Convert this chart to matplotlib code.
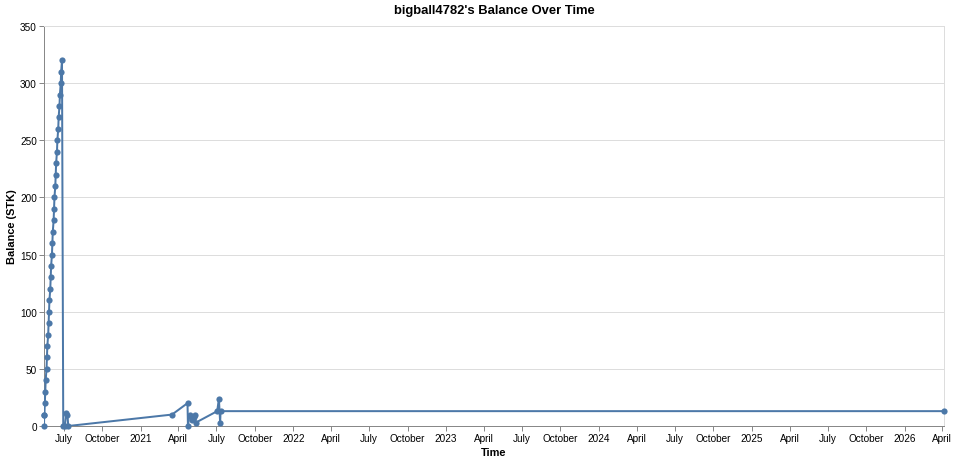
import pandas as pd
import matplotlib
matplotlib.use("Agg")
import matplotlib.pyplot as plt
import matplotlib.dates as mdates

# ----------------------------------------------------------------------
# data
# ----------------------------------------------------------------------
dates = [
    "2020-05-15 00:00", "2020-05-15 12:00", "2020-05-16", "2020-05-17", "2020-05-18",
    "2020-05-19", "2020-05-21", "2020-05-22", "2020-05-23", "2020-05-25",
    "2020-05-26", "2020-05-27", "2020-05-28", "2020-05-30", "2020-05-31",
    "2020-06-01", "2020-06-03", "2020-06-04", "2020-06-05", "2020-06-07",
    "2020-06-08", "2020-06-09", "2020-06-11", "2020-06-12", "2020-06-13",
    "2020-06-15", "2020-06-16", "2020-06-18", "2020-06-19", "2020-06-21",
    "2020-06-22", "2020-06-24", "2020-06-25", "2020-06-27",
    "2020-06-30", "2020-07-04", "2020-07-07", "2020-07-10", "2020-07-12",
    "2021-03-17", "2021-04-23", "2021-04-24", "2021-04-28", "2021-05-03",
    "2021-05-08", "2021-05-11", "2021-05-13",
    "2021-07-03", "2021-07-07", "2021-07-10", "2021-07-11",
    "2026-04-05",
]
balance = [
    0, 10, 10, 20, 30,
    40, 50, 60, 70, 80,
    90, 100, 110, 120, 130,
    140, 150, 160, 170, 180,
    190, 200, 210, 220, 230,
    240, 250, 260, 270, 280,
    290, 300, 310, 320,
    0, 0, 11, 10, 0,
    10, 20, 0, 10, 5,
    8, 10, 3,
    13, 24, 3, 13,
    13,
]
y_ticks = [0, 50, 100, 150, 200, 250, 300, 350]

df = pd.DataFrame({"time": pd.to_datetime(dates, format="mixed"), "balance": balance})
df = df.sort_values("time")

COLOR = "#4c78a8"
PX = 0.72   # one pixel in points at 100 dpi
plt.rcParams["font.family"] = ["Liberation Sans", "DejaVu Sans"]

# ----------------------------------------------------------------------
# figure
# ----------------------------------------------------------------------
W, H = 954, 464
fig = plt.figure(figsize=(W / 100, H / 100), dpi=100)
ax = fig.add_axes([44 / W, 1 - 427 / H, 900 / W, 400 / H])

ax.plot(df["time"], df["balance"], color=COLOR, linewidth=2 * PX, zorder=3)
ax.scatter(df["time"], df["balance"], s=20, color=COLOR, zorder=4, linewidths=0,
           clip_on=False)

ax.set_xlim(df["time"].min(), df["time"].max())
ax.set_ylim(0, 350)
ax.set_yticks(y_ticks)

ax.xaxis.set_major_locator(mdates.MonthLocator(bymonth=[1, 4, 7, 10]))


def fmt_date(x, pos=None):
    d = mdates.num2date(x)
    return str(d.year) if d.month == 1 else d.strftime("%B")


ax.xaxis.set_major_formatter(plt.FuncFormatter(fmt_date))

ax.grid(axis="y", color="#dddddd", linewidth=PX)
ax.set_axisbelow(True)
for side in ["left", "bottom"]:
    ax.spines[side].set_color("#888888")
    ax.spines[side].set_linewidth(PX)
for side in ["top", "right"]:
    ax.spines[side].set_color("#dddddd")
    ax.spines[side].set_linewidth(PX)
ax.tick_params(axis="both", length=5 * PX, width=PX, color="#888888",
               labelsize=10 * PX, labelcolor="#000000", pad=2 * PX)

# titles placed in figure pixels like the reference
fig.text(494 / W, 1 - 11 / H, "bigball4782's Balance Over Time", ha="center",
         va="center", fontsize=13 * PX, fontweight="bold")
fig.text(494 / W, 1 - 453 / H, "Time", ha="center", va="center",
         fontsize=11 * PX, fontweight="bold")
fig.text(12 / W, 1 - 227 / H, "Balance (STK)", ha="center", va="center",
         rotation=90, fontsize=11 * PX, fontweight="bold")

fig.savefig("out.png", dpi=100)
